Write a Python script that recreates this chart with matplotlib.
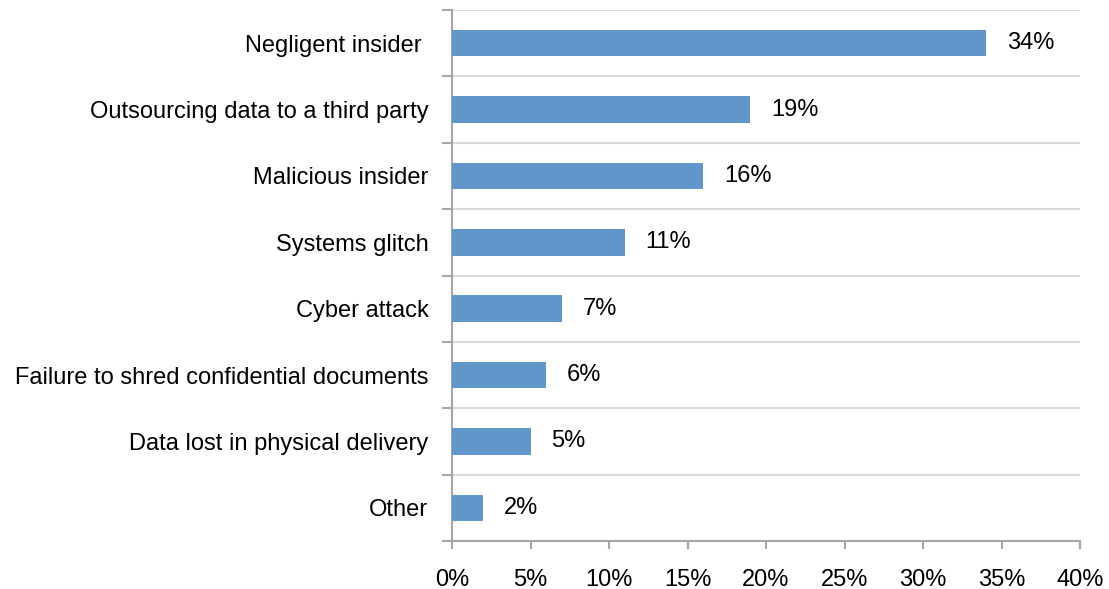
import matplotlib
matplotlib.use("Agg")
import matplotlib.pyplot as plt
from matplotlib.ticker import FixedLocator, FuncFormatter

plt.rcParams['font.family'] = ['Liberation Sans', 'DejaVu Sans']

categories = [
    "Negligent insider ",
    "Outsourcing data to a third party",
    "Malicious insider",
    "Systems glitch",
    "Cyber attack",
    "Failure to shred confidential documents",
    "Data lost in physical delivery",
    "Other",
]
values = [34, 19, 16, 11, 7, 6, 5, 2]
x_ticks = [0, 5, 10, 15, 20, 25, 30, 35, 40]

bar_color = "#6096C9"
axis_color = "#A6A6A6"
grid_color = "#D9D9D9"
font_size = 17

fig = plt.figure(figsize=(11.09, 5.89), dpi=100)
ax = fig.add_axes([452 / 1109, 1 - 541 / 589, (1080 - 452) / 1109, (541 - 10) / 589])

ypos = list(range(len(categories)))
ax.barh(ypos, values, height=0.4, color=bar_color, zorder=3)

for y, v in zip(ypos, values):
    ax.annotate(f"{v}%", xy=(v, y), xytext=(15, 0), textcoords="offset points",
                ha="left", va="center", fontsize=font_size, color="#000000")

ax.set_xlim(0, 40)
ax.set_ylim(len(categories) - 0.5, -0.5)

ax.xaxis.set_major_locator(FixedLocator(x_ticks))
ax.xaxis.set_major_formatter(FuncFormatter(lambda v, p: f"{v:.0f}%"))
ax.set_yticks(ypos)
ax.set_yticklabels(categories)
ax.set_yticks([i - 0.5 for i in range(len(categories) + 1)], minor=True)

ax.tick_params(axis="y", which="major", length=0, pad=17, labelsize=font_size)
ax.tick_params(axis="y", which="minor", length=7, width=1.5, color=axis_color)
ax.tick_params(axis="x", which="major", length=6, width=1.5, color=axis_color,
               pad=14, labelsize=font_size)

ax.grid(True, axis="y", which="minor", color=grid_color, linewidth=1.5, zorder=0)
ax.grid(False, axis="y", which="major")
ax.grid(False, axis="x")

for side in ("top", "right"):
    ax.spines[side].set_visible(False)
for side in ("left", "bottom"):
    ax.spines[side].set_color(axis_color)
    ax.spines[side].set_linewidth(1.5)

fig.savefig("out.png", dpi=100, facecolor="white")
